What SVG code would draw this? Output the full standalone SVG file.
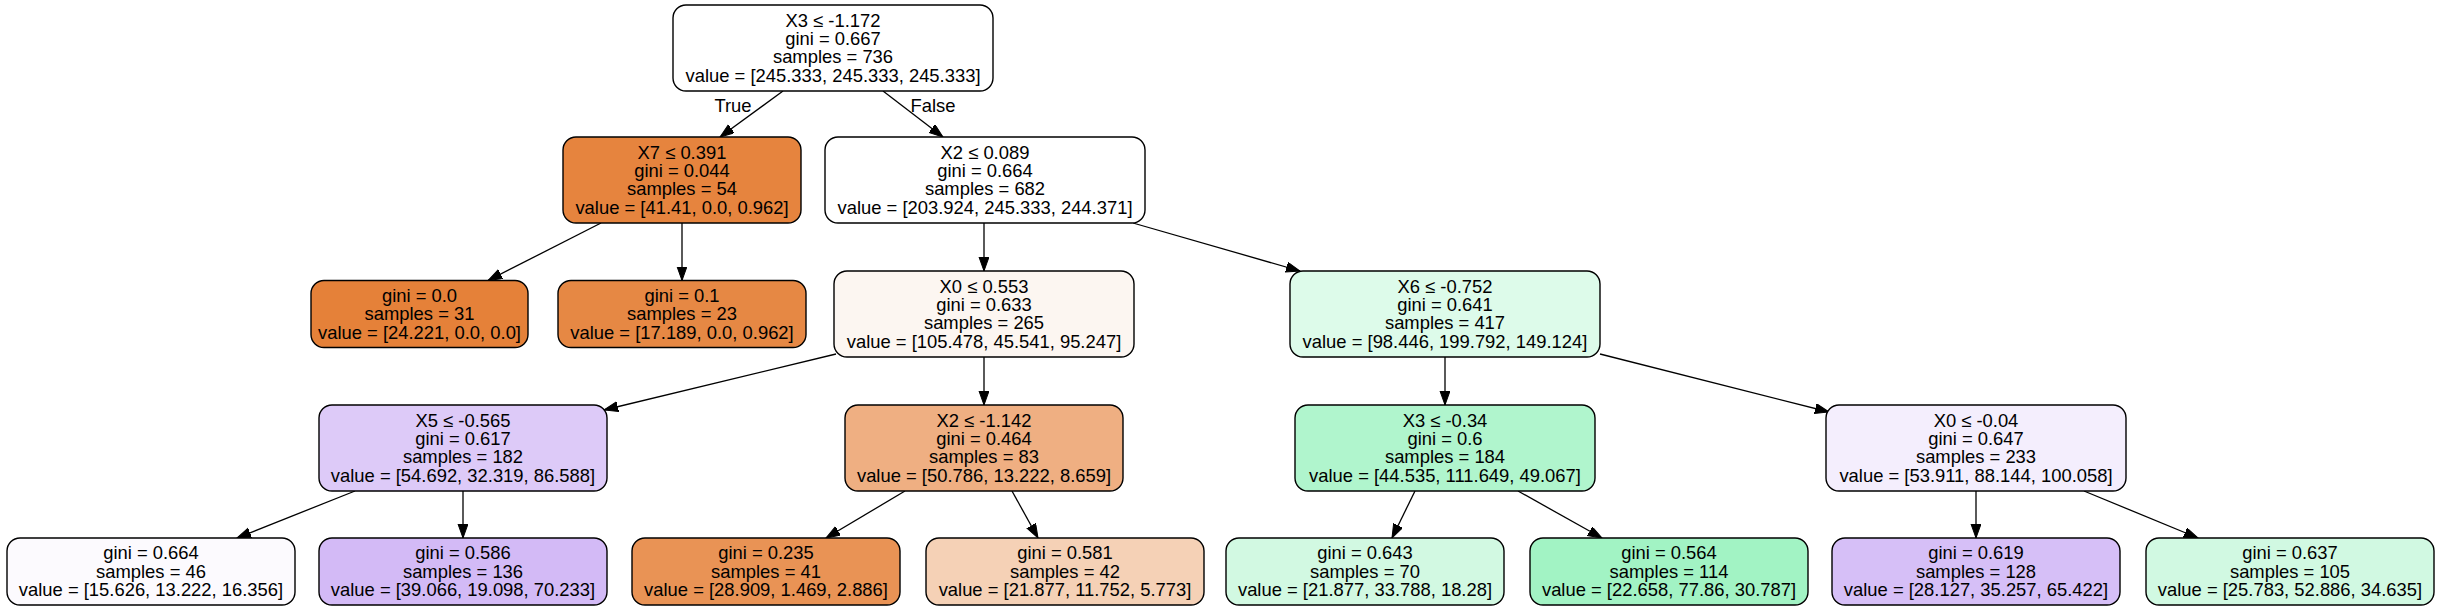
<svg xmlns="http://www.w3.org/2000/svg" width="2440" height="611" viewBox="0 0 2440 611">
<defs>
<style>
.n rect{stroke:#000;stroke-width:1.4}
text{font-family:"Liberation Sans",Arial,Helvetica,sans-serif;font-size:18.4px;text-anchor:middle;fill:#000}
.e line{stroke:#000;stroke-width:1.3;marker-end:url(#ah)}
</style>
<marker id="ah" markerUnits="userSpaceOnUse" markerWidth="15" markerHeight="11" refX="14" refY="5" orient="auto" viewBox="0 0 15 11">
<path d="M0,0 L14,5 L0,10 z" fill="#000" stroke="#000" stroke-width="1"/>
</marker>
</defs>
<rect width="2440" height="611" fill="#fff"/>
<g id="connectors" class="e">
<line x1="783" y1="91" x2="720" y2="137"/>
<line x1="883" y1="91" x2="943" y2="137"/>
<line x1="601" y1="223" x2="488" y2="280.5"/>
<line x1="682" y1="223" x2="682" y2="280.5"/>
<line x1="984" y1="223" x2="984" y2="271"/>
<line x1="1133" y1="223" x2="1300" y2="271"/>
<line x1="836" y1="354" x2="604" y2="410"/>
<line x1="984" y1="357" x2="984" y2="405"/>
<line x1="1445" y1="357" x2="1445" y2="405"/>
<line x1="1600" y1="354" x2="1829" y2="412"/>
<line x1="355" y1="491" x2="237" y2="538"/>
<line x1="463" y1="491" x2="463" y2="538"/>
<line x1="905" y1="491" x2="826" y2="538"/>
<line x1="1012" y1="491" x2="1038" y2="538"/>
<line x1="1415" y1="491" x2="1392" y2="538"/>
<line x1="1518" y1="491" x2="1602" y2="538"/>
<line x1="1976" y1="491" x2="1976" y2="538"/>
<line x1="2084" y1="491" x2="2198" y2="538"/>
<text x="733" y="111.5">True</text>
<text x="933" y="111.5">False</text>
</g>
<g id="n0" class="n"><rect x="673" y="5" width="320" height="86" rx="13" fill="#ffffff"/>
<text x="833" y="26.7">X3 ≤ -1.172</text><text x="833" y="45">gini = 0.667</text><text x="833" y="63.4">samples = 736</text><text x="833" y="81.7">value = [245.333, 245.333, 245.333]</text></g>
<g id="n1" class="n"><rect x="563" y="137" width="238" height="86" rx="13" fill="#e6843e"/>
<text x="682" y="158.7">X7 ≤ 0.391</text><text x="682" y="177">gini = 0.044</text><text x="682" y="195.4">samples = 54</text><text x="682" y="213.7">value = [41.41, 0.0, 0.962]</text></g>
<g id="n2" class="n"><rect x="311" y="280.5" width="217" height="67" rx="13" fill="#e58139"/>
<text x="419.5" y="301.9">gini = 0.0</text><text x="419.5" y="320.2">samples = 31</text><text x="419.5" y="338.5">value = [24.221, 0.0, 0.0]</text></g>
<g id="n3" class="n"><rect x="558" y="280.5" width="248" height="67" rx="13" fill="#e68844"/>
<text x="682" y="301.9">gini = 0.1</text><text x="682" y="320.2">samples = 23</text><text x="682" y="338.5">value = [17.189, 0.0, 0.962]</text></g>
<g id="n4" class="n"><rect x="825" y="137" width="320" height="86" rx="13" fill="#ffffff"/>
<text x="985" y="158.7">X2 ≤ 0.089</text><text x="985" y="177">gini = 0.664</text><text x="985" y="195.4">samples = 682</text><text x="985" y="213.7">value = [203.924, 245.333, 244.371]</text></g>
<g id="n5" class="n"><rect x="834" y="271" width="300" height="86" rx="13" fill="#fcf6f1"/>
<text x="984" y="292.7">X0 ≤ 0.553</text><text x="984" y="311">gini = 0.633</text><text x="984" y="329.4">samples = 265</text><text x="984" y="347.7">value = [105.478, 45.541, 95.247]</text></g>
<g id="n6" class="n"><rect x="319" y="405" width="288" height="86" rx="13" fill="#ddcaf8"/>
<text x="463" y="426.7">X5 ≤ -0.565</text><text x="463" y="445">gini = 0.617</text><text x="463" y="463.4">samples = 182</text><text x="463" y="481.7">value = [54.692, 32.319, 86.588]</text></g>
<g id="n7" class="n"><rect x="7" y="538" width="288" height="67" rx="13" fill="#fcfafe"/>
<text x="151" y="559.4">gini = 0.664</text><text x="151" y="577.7">samples = 46</text><text x="151" y="596">value = [15.626, 13.222, 16.356]</text></g>
<g id="n8" class="n"><rect x="319" y="538" width="288" height="67" rx="13" fill="#d3baf6"/>
<text x="463" y="559.4">gini = 0.586</text><text x="463" y="577.7">samples = 136</text><text x="463" y="596">value = [39.066, 19.098, 70.233]</text></g>
<g id="n9" class="n"><rect x="845" y="405" width="278" height="86" rx="13" fill="#efaf82"/>
<text x="984" y="426.7">X2 ≤ -1.142</text><text x="984" y="445">gini = 0.464</text><text x="984" y="463.4">samples = 83</text><text x="984" y="481.7">value = [50.786, 13.222, 8.659]</text></g>
<g id="n10" class="n"><rect x="632" y="538" width="268" height="67" rx="13" fill="#e99355"/>
<text x="766" y="559.4">gini = 0.235</text><text x="766" y="577.7">samples = 41</text><text x="766" y="596">value = [28.909, 1.469, 2.886]</text></g>
<g id="n11" class="n"><rect x="926" y="538" width="278" height="67" rx="13" fill="#f5d1b6"/>
<text x="1065" y="559.4">gini = 0.581</text><text x="1065" y="577.7">samples = 42</text><text x="1065" y="596">value = [21.877, 11.752, 5.773]</text></g>
<g id="n12" class="n"><rect x="1290" y="271" width="310" height="86" rx="13" fill="#ddfbea"/>
<text x="1445" y="292.7">X6 ≤ -0.752</text><text x="1445" y="311">gini = 0.641</text><text x="1445" y="329.4">samples = 417</text><text x="1445" y="347.7">value = [98.446, 199.792, 149.124]</text></g>
<g id="n13" class="n"><rect x="1295" y="405" width="300" height="86" rx="13" fill="#b0f5cd"/>
<text x="1445" y="426.7">X3 ≤ -0.34</text><text x="1445" y="445">gini = 0.6</text><text x="1445" y="463.4">samples = 184</text><text x="1445" y="481.7">value = [44.535, 111.649, 49.067]</text></g>
<g id="n14" class="n"><rect x="1226" y="538" width="278" height="67" rx="13" fill="#d2f9e2"/>
<text x="1365" y="559.4">gini = 0.643</text><text x="1365" y="577.7">samples = 70</text><text x="1365" y="596">value = [21.877, 33.788, 18.28]</text></g>
<g id="n15" class="n"><rect x="1530" y="538" width="278" height="67" rx="13" fill="#a2f3c4"/>
<text x="1669" y="559.4">gini = 0.564</text><text x="1669" y="577.7">samples = 114</text><text x="1669" y="596">value = [22.658, 77.86, 30.787]</text></g>
<g id="n16" class="n"><rect x="1826" y="405" width="300" height="86" rx="13" fill="#f4eefd"/>
<text x="1976" y="426.7">X0 ≤ -0.04</text><text x="1976" y="445">gini = 0.647</text><text x="1976" y="463.4">samples = 233</text><text x="1976" y="481.7">value = [53.911, 88.144, 100.058]</text></g>
<g id="n17" class="n"><rect x="1832" y="538" width="288" height="67" rx="13" fill="#d6bff7"/>
<text x="1976" y="559.4">gini = 0.619</text><text x="1976" y="577.7">samples = 128</text><text x="1976" y="596">value = [28.127, 35.257, 65.422]</text></g>
<g id="n18" class="n"><rect x="2146" y="538" width="288" height="67" rx="13" fill="#d1f9e2"/>
<text x="2290" y="559.4">gini = 0.637</text><text x="2290" y="577.7">samples = 105</text><text x="2290" y="596">value = [25.783, 52.886, 34.635]</text></g>
</svg>
